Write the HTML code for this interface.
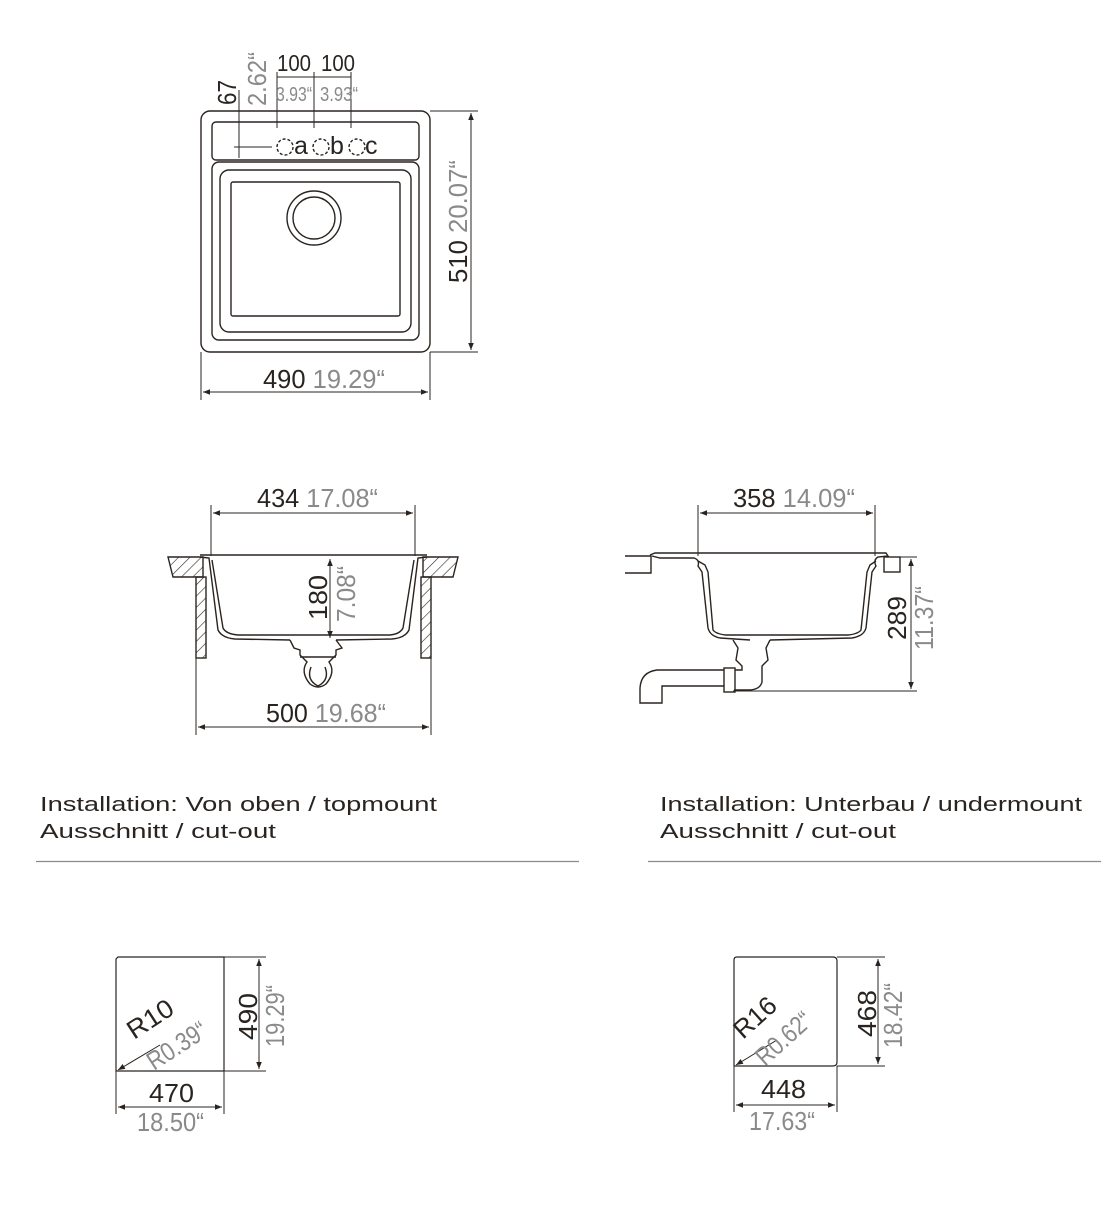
<!DOCTYPE html>
<html><head><meta charset="utf-8"><style>
html,body{margin:0;padding:0;background:#fff;}
svg{display:block;}
text{font-family:"Liberation Sans",sans-serif;}
.k{fill:#2a2420;}
.g{fill:#8a8a8a;}
</style></head><body>
<svg width="1101" height="1220" viewBox="0 0 1101 1220" xmlns="http://www.w3.org/2000/svg">
<defs>
<marker id="a" viewBox="0 0 10 10" refX="10" refY="5" markerWidth="9" markerHeight="7" orient="auto-start-reverse" markerUnits="userSpaceOnUse"><path d="M0,1 L10,5 L0,9 z" fill="#2a2420"/></marker>
<pattern id="h" width="8" height="8" patternUnits="userSpaceOnUse" patternTransform="rotate(45)"><line x1="0" y1="0" x2="0" y2="8" stroke="#2a2420" stroke-width="1.2"/></pattern>
</defs>
<g fill="none" stroke="#2a2420" stroke-width="1.4">
<rect x="201" y="111" width="229" height="241" rx="9"/>
<rect x="212" y="122" width="207" height="38" rx="4"/>
<rect x="212" y="162" width="207" height="178" rx="7"/>
<rect x="220" y="170" width="191" height="162" rx="9"/>
<rect x="231" y="182" width="169" height="134" rx="2"/>
<circle cx="314" cy="218" r="27"/>
<circle cx="314" cy="218" r="21"/>
<circle cx="285" cy="147" r="8" stroke-dasharray="3 2"/>
<circle cx="321" cy="147" r="8" stroke-dasharray="3 2"/>
<circle cx="357" cy="147" r="8" stroke-dasharray="3 2"/>
<g stroke-width="1">
<line x1="277" y1="72" x2="277" y2="128"/><line x1="314" y1="72" x2="314" y2="128"/><line x1="351" y1="72" x2="351" y2="128"/>
<line x1="277" y1="77" x2="351" y2="77"/>
<line x1="239" y1="90" x2="239" y2="158"/>
<line x1="234" y1="147" x2="272" y2="147"/>
<line x1="201" y1="352" x2="201" y2="400"/><line x1="430" y1="352" x2="430" y2="400"/>
<line x1="203" y1="392" x2="428" y2="392" marker-start="url(#a)" marker-end="url(#a)"/>
<line x1="430" y1="111" x2="478" y2="111"/><line x1="430" y1="352" x2="478" y2="352"/>
<line x1="471" y1="113" x2="471" y2="350" marker-start="url(#a)" marker-end="url(#a)"/>
</g>
<g stroke-width="1">
<line x1="211" y1="505" x2="211" y2="556"/><line x1="415" y1="505" x2="415" y2="556"/>
<line x1="213" y1="513" x2="413" y2="513" marker-start="url(#a)" marker-end="url(#a)"/>
<line x1="330" y1="559" x2="330" y2="638" marker-start="url(#a)" marker-end="url(#a)"/>
<line x1="196" y1="658" x2="196" y2="735"/><line x1="431" y1="658" x2="431" y2="735"/>
<line x1="198" y1="727" x2="429" y2="727" marker-start="url(#a)" marker-end="url(#a)"/>
</g>
<path d="M168,557 L203,557 L203,577 L173,577 Z" fill="url(#h)"/>
<path d="M423,557 L458,557 L453,577 L423,577 Z" fill="url(#h)"/>
<rect x="196" y="577" width="10" height="81" fill="url(#h)"/>
<rect x="421" y="577" width="10" height="81" fill="url(#h)"/>
<line x1="200" y1="555" x2="427" y2="555"/>
<path d="M200,557 L209,558 L218,630 Q222,638 235,639 L290,640 M336,640 L392,639 Q405,638 409,630 L418,558 L427,557"/>
<path d="M212,560 L223,628 Q226,634 238,635 L390,635 Q400,634 403,628 L414,560"/>
<path d="M290,640 L294,648 L300,650 L300,655 L307,662 Q300,672 310,684 Q318,690 326,684 Q336,672 329,662 L336,655 L336,650 L342,648 L336,640"/>
<path d="M311,667 Q306,680 318,686 Q330,680 325,667"/>
<line x1="300" y1="657" x2="336" y2="657"/>
<g stroke-width="1">
<line x1="698" y1="505" x2="698" y2="556"/><line x1="875" y1="505" x2="875" y2="556"/>
<line x1="700" y1="513" x2="873" y2="513" marker-start="url(#a)" marker-end="url(#a)"/>
<line x1="888" y1="557" x2="917" y2="557"/>
<line x1="733" y1="691" x2="917" y2="691"/>
<line x1="911" y1="559" x2="911" y2="689" marker-start="url(#a)" marker-end="url(#a)"/>
</g>
<path d="M625,556 L651,556 L651,573 L625,573"/>
<path d="M650,555 L655,553 L886,553 L888,556 L878,557 Q873,560 876,566 L872,572 L866,628 Q864,636 852,638 L770,640 M750,640 L720,638 Q710,636 708,628 L702,572 L698,566 Q700,560 694,558 L660,558 L652,556"/>
<path d="M698,561 L705,565 L708,572 L713,630 Q716,634 726,635 L848,635 Q858,634 861,630 L867,572 L870,565 L876,561"/>
<rect x="884" y="557" width="16" height="15"/>
<path d="M733,640 L738,648 L736,660 L742,666 L742,670 L735,670 M770,640 L766,648 L768,660 L762,666 L762,682 Q760,690 748,690 L734,690"/>
<rect x="724" y="668" width="11" height="24"/>
<path d="M724,670 L657,670 Q641,672 640,688 L640,703 L662,703 L662,686 L724,686"/>
</g>
<g fill="none" stroke="#2a2420" stroke-width="1.2">
<path d="M118,957 L224,957 L224,1071 L116,1071 L116,959 Z"/>
<g stroke-width="1">
<line x1="224" y1="957" x2="266" y2="957"/><line x1="224" y1="1071" x2="266" y2="1071"/>
<line x1="259" y1="959" x2="259" y2="1069" marker-start="url(#a)" marker-end="url(#a)"/>
<line x1="116" y1="1071" x2="116" y2="1114"/><line x1="224" y1="1071" x2="224" y2="1114"/>
<line x1="118" y1="1107" x2="222" y2="1107" marker-start="url(#a)" marker-end="url(#a)"/>
<line x1="160" y1="1045" x2="118" y2="1070" marker-end="url(#a)"/>
</g>
<path d="M737,957 L833,957 Q837,957 837,961 L837,1062 Q837,1066 833,1066 L734,1066 L734,960 Q734,957 737,957 Z"/>
<g stroke-width="1">
<line x1="837" y1="957" x2="885" y2="957"/><line x1="837" y1="1066" x2="885" y2="1066"/>
<line x1="878" y1="959" x2="878" y2="1064" marker-start="url(#a)" marker-end="url(#a)"/>
<line x1="734" y1="1066" x2="734" y2="1112"/><line x1="837" y1="1066" x2="837" y2="1112"/>
<line x1="736" y1="1105" x2="835" y2="1105" marker-start="url(#a)" marker-end="url(#a)"/>
<line x1="777" y1="1040" x2="736" y2="1065" marker-end="url(#a)"/>
</g>
</g>
<g font-size="26">
<text class="k" x="277" y="71" font-size="23" textLength="34" lengthAdjust="spacingAndGlyphs">100</text>
<text class="k" x="321" y="71" font-size="23" textLength="34" lengthAdjust="spacingAndGlyphs">100</text>
<text class="g" x="276" y="101" font-size="20" textLength="36" lengthAdjust="spacingAndGlyphs">3.93“</text>
<text class="g" x="320" y="101" font-size="20" textLength="38" lengthAdjust="spacingAndGlyphs">3.93“</text>
<text class="k" x="294" y="154" font-size="25">a</text>
<text class="k" x="330" y="154" font-size="25">b</text>
<text class="k" x="365" y="154" font-size="25">c</text>
<text class="k" transform="translate(236,105) rotate(-90)" textLength="25" lengthAdjust="spacingAndGlyphs">67</text>
<text class="g" transform="translate(266,106) rotate(-90)" textLength="54" lengthAdjust="spacingAndGlyphs">2.62“</text>
<text x="263" y="388" textLength="122" lengthAdjust="spacingAndGlyphs"><tspan class="k">490</tspan><tspan class="g"> 19.29“</tspan></text>
<text transform="translate(467,283) rotate(-90)" textLength="123" lengthAdjust="spacingAndGlyphs"><tspan class="k">510</tspan><tspan class="g"> 20.07“</tspan></text>
<text x="257" y="507" textLength="121" lengthAdjust="spacingAndGlyphs"><tspan class="k">434</tspan><tspan class="g"> 17.08“</tspan></text>
<text class="k" transform="translate(327,620) rotate(-90)" textLength="45" lengthAdjust="spacingAndGlyphs">180</text>
<text class="g" transform="translate(355,622) rotate(-90)" textLength="56" lengthAdjust="spacingAndGlyphs">7.08“</text>
<text x="266" y="722" textLength="120" lengthAdjust="spacingAndGlyphs"><tspan class="k">500</tspan><tspan class="g"> 19.68“</tspan></text>
<text x="733" y="507" textLength="122" lengthAdjust="spacingAndGlyphs"><tspan class="k">358</tspan><tspan class="g"> 14.09“</tspan></text>
<text class="k" transform="translate(906,640) rotate(-90)" textLength="44" lengthAdjust="spacingAndGlyphs">289</text>
<text class="g" transform="translate(933,650) rotate(-90)" textLength="64" lengthAdjust="spacingAndGlyphs">11.37“</text>
<text class="k" x="40" y="811" font-size="20" textLength="397" lengthAdjust="spacingAndGlyphs">Installation: Von oben / topmount</text>
<text class="k" x="40" y="838" font-size="20" textLength="236" lengthAdjust="spacingAndGlyphs">Ausschnitt / cut-out</text>
<text class="k" x="660" y="811" font-size="20" textLength="422" lengthAdjust="spacingAndGlyphs">Installation: Unterbau / undermount</text>
<text class="k" x="660" y="838" font-size="20" textLength="236" lengthAdjust="spacingAndGlyphs">Ausschnitt / cut-out</text>
<text class="k" transform="translate(134,1040) rotate(-33)" textLength="50" lengthAdjust="spacingAndGlyphs">R10</text>
<text class="g" transform="translate(154,1071) rotate(-33)" textLength="66" lengthAdjust="spacingAndGlyphs">R0.39“</text>
<text class="k" transform="translate(743,1040) rotate(-42)" textLength="48" lengthAdjust="spacingAndGlyphs">R16</text>
<text class="g" transform="translate(765,1067) rotate(-42)" textLength="66" lengthAdjust="spacingAndGlyphs">R0.62“</text>
<text class="k" transform="translate(257,1040) rotate(-90)" textLength="47" lengthAdjust="spacingAndGlyphs">490</text>
<text class="g" transform="translate(284,1047) rotate(-90)" textLength="62" lengthAdjust="spacingAndGlyphs">19.29“</text>
<text class="k" x="149" y="1102" textLength="45" lengthAdjust="spacingAndGlyphs">470</text>
<text class="g" x="137" y="1131" textLength="67" lengthAdjust="spacingAndGlyphs">18.50“</text>
<text class="k" transform="translate(876,1037) rotate(-90)" textLength="47" lengthAdjust="spacingAndGlyphs">468</text>
<text class="g" transform="translate(902,1048) rotate(-90)" textLength="65" lengthAdjust="spacingAndGlyphs">18.42“</text>
<text class="k" x="761" y="1098" textLength="45" lengthAdjust="spacingAndGlyphs">448</text>
<text class="g" x="749" y="1130" textLength="66" lengthAdjust="spacingAndGlyphs">17.63“</text>
</g>
<line x1="36" y1="861.5" x2="579" y2="861.5" stroke="#8a8a8a" stroke-width="1.2"/>
<line x1="648" y1="861.5" x2="1101" y2="861.5" stroke="#8a8a8a" stroke-width="1.2"/>
</svg>
</body></html>
